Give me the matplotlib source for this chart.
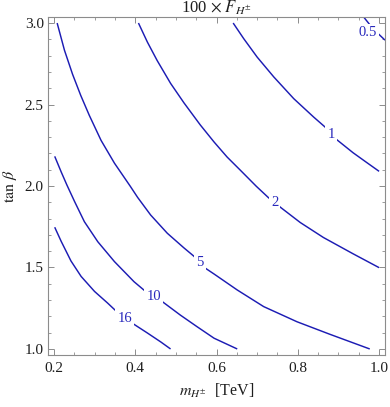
import matplotlib
matplotlib.use("Agg")
import matplotlib.pyplot as plt
from matplotlib.ticker import MultipleLocator

plt.rcParams['font.family'] = ['Liberation Serif', 'DejaVu Serif']
plt.rcParams['mathtext.fontset'] = 'stix'

# Contour levels (100 x F_H+-) and their traced points (m_H [TeV], tan beta)
levels = ["16", "10", "5", "2", "1", "0.5"]

m_16 = [0.202, 0.218, 0.242, 0.267, 0.300, 0.332, 0.352, 0.374, 0.396, 0.430, 0.463, 0.487]
t_16 = [1.747, 1.660, 1.540, 1.445, 1.353, 1.282, 1.235, 1.190, 1.153, 1.098, 1.043, 1.000]

m_10 = [0.202, 0.218, 0.232, 0.251, 0.275, 0.308, 0.349, 0.397, 0.426, 0.446,
        0.467, 0.511, 0.552, 0.594, 0.651]
t_10 = [2.182, 2.086, 2.006, 1.904, 1.781, 1.658, 1.536, 1.413, 1.352, 1.325,
        1.290, 1.208, 1.137, 1.066, 1.000]

m_5 = [0.208, 0.226, 0.246, 0.266, 0.287, 0.316, 0.349, 0.388, 0.406, 0.438, 0.479,
       0.520, 0.544, 0.560, 0.573, 0.594, 0.651, 0.716, 0.798, 0.879, 0.977]
t_5 = [3.000, 2.833, 2.685, 2.556, 2.434, 2.280, 2.140, 1.998, 1.930, 1.822, 1.710,
       1.620, 1.570, 1.529, 1.495, 1.460, 1.362, 1.260, 1.167, 1.090, 1.000]

m_2 = [0.408, 0.430, 0.454, 0.487, 0.520, 0.560, 0.594, 0.626, 0.659, 0.698,
       0.728, 0.743, 0.757, 0.806, 0.863, 0.936, 1.000]
t_2 = [3.000, 2.883, 2.770, 2.630, 2.510, 2.375, 2.270, 2.178, 2.096, 1.998,
       1.928, 1.900, 1.870, 1.776, 1.684, 1.584, 1.499]

m_1 = [0.641, 0.667, 0.700, 0.741, 0.790, 0.839, 0.867, 0.882, 0.896, 0.936, 0.969, 1.000]
t_1 = [3.000, 2.904, 2.791, 2.669, 2.536, 2.423, 2.362, 2.317, 2.284, 2.204, 2.145, 2.090]

m_05 = [0.962, 0.985, 1.0145]
t_05 = [3.037, 2.965, 2.895]

# label positions
lab_m = [0.374, 0.446, 0.560, 0.743, 0.882, 0.971]
lab_t = [1.190, 1.325, 1.529, 1.900, 2.317, 2.940]

xticks = [0.2, 0.4, 0.6, 0.8, 1.0]
yticks = [1.0, 1.5, 2.0, 2.5, 3.0]

line_color = '#1c1cb4'
label_color = '#2828bc'
frame_color = '#8c8c8c'
text_color = '#1e1e1e'

fig = plt.figure(figsize=(3.9, 4.07), dpi=100)
ax = fig.add_axes([48/390, 1-355/407, (385-48)/390, (355-17)/407])

curves = [(m_16, t_16), (m_10, t_10), (m_5, t_5), (m_2, t_2), (m_1, t_1), (m_05, t_05)]
for (mx, ty) in curves:
    ax.plot(mx, ty, color=line_color, lw=1.05, solid_capstyle='butt',
            solid_joinstyle='round', clip_on=True)

for lab, lx, ly in zip(levels, lab_m, lab_t):
    ax.text(lx, ly, lab, color=label_color, fontsize=10.5, ha='center', va='center',
            bbox=dict(boxstyle='square,pad=0.15', fc='white', ec='none'), zorder=5)

ax.set_xlim(0.1855, 1.0145)
ax.set_ylim(0.963, 3.037)
ax.set_xticks(xticks)
ax.set_xticklabels([f"{v:.1f}" for v in xticks])
ax.set_yticks(yticks)
ax.set_yticklabels([f"{v:.1f}" for v in yticks])
ax.xaxis.set_minor_locator(MultipleLocator(0.05))
ax.yaxis.set_minor_locator(MultipleLocator(0.1))
ax.tick_params(which='both', direction='in', top=True, right=True, color=frame_color,
               labelsize=11, labelcolor=text_color)
ax.tick_params(which='major', length=4, width=0.7)
ax.tick_params(which='minor', length=2.5, width=0.6)
ax.tick_params(axis='x', which='major', pad=5)
ax.tick_params(axis='y', which='major', pad=3)
for s in ax.spines.values():
    s.set_color(frame_color)
    s.set_linewidth(0.8)

ax.set_title(r"100 $\times$ $F_{H^{\pm}}$", fontsize=12, pad=1, color=text_color)
ax.set_xlabel(r"$m_{H^{\pm}}$  [TeV]", fontsize=11.5, labelpad=5, color=text_color)
ax.set_ylabel(r"$\tan\,\beta$", fontsize=11.5, labelpad=4, color=text_color)

fig.savefig("out.png", dpi=100)
